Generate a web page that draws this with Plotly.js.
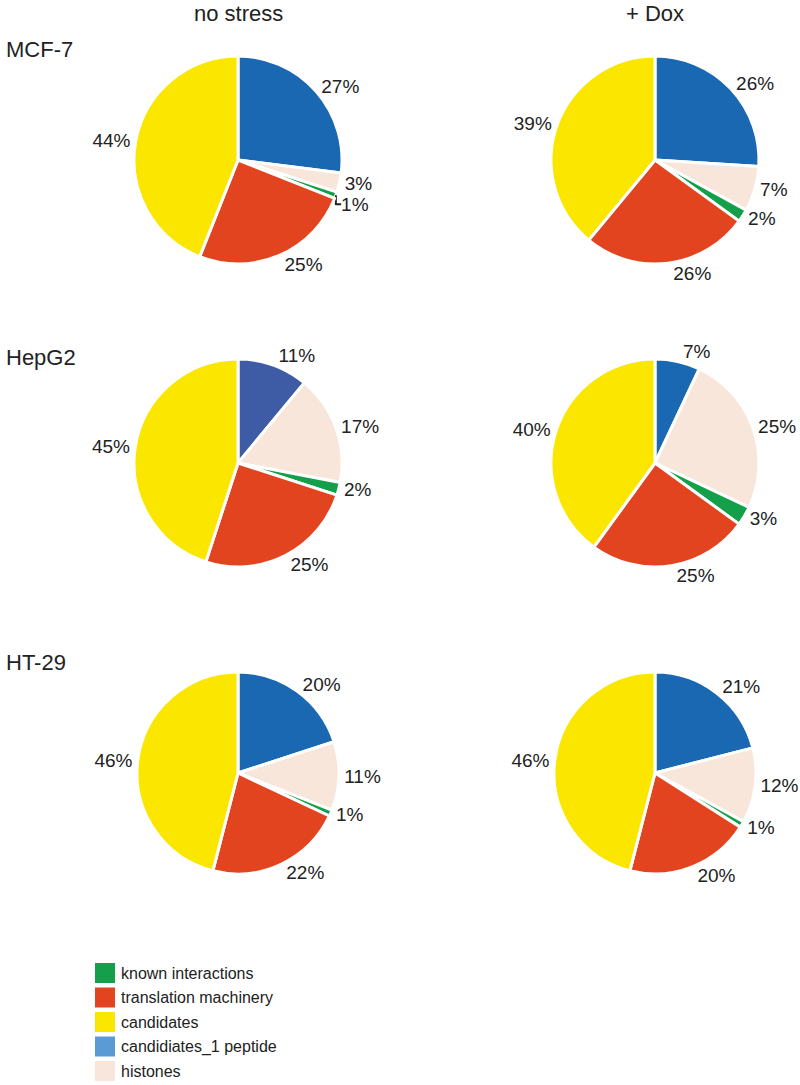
<!DOCTYPE html>
<html>
<head>
<meta charset="utf-8">
<script src="https://cdn.plot.ly/plotly-3.0.1.min.js"></script>
<style>
  body { margin: 0; background: #fff; }
  #chart { width: 800px; height: 1085px; }
</style>
</head>
<body>
<div id="chart"></div>
<script>
// slice order, clockwise from 12 o'clock
var sliceLabels = ['candidiates_1 peptide', 'histones', 'known interactions', 'translation machinery', 'candidates'];

var cellLines = ['MCF-7', 'HepG2', 'HT-29'];
var conditions = ['no stress', '+ Dox'];

// percentages per pie, same order as sliceLabels
var mcf7NoStress = [27, 3, 1, 25, 44];
var mcf7Dox      = [26, 7, 2, 26, 39];
var hepg2NoStress = [11, 17, 2, 25, 45];
var hepg2Dox      = [7, 25, 3, 25, 40];
var ht29NoStress = [20, 11, 1, 22, 46];
var ht29Dox      = [21, 12, 1, 20, 46];

var legendLabels = ['known interactions', 'translation machinery', 'candidates', 'candidiates_1 peptide', 'histones'];
var legendColors = ['#14a04a', '#e2441f', '#fbe600', '#5b9bd5', '#f7e6d9'];

var sliceColors = ['#1a68b2', '#f7e6d9', '#14a04a', '#e2441f', '#fbe600'];
var sliceColorsHep = ['#3e5ba6', '#f7e6d9', '#14a04a', '#e2441f', '#fbe600'];

var W = 800, H = 1085;
var colX = [238, 655];
var rowY = [160, 463, 773];
var radius = [104, 104, 101];

var pieValues = [
  [mcf7NoStress, mcf7Dox],
  [hepg2NoStress, hepg2Dox],
  [ht29NoStress, ht29Dox]
];

var data = [];
for (var r = 0; r < 3; r++) {
  for (var c = 0; c < 2; c++) {
    var cx = colX[c], cy = rowY[r], rad = radius[r];
    data.push({
      type: 'pie',
      values: pieValues[r][c],
      labels: sliceLabels,
      sort: false,
      direction: 'clockwise',
      rotation: 0,
      textinfo: 'percent',
      texttemplate: '%{value}%',
      textposition: 'outside',
      outsidetextfont: { size: 19, color: '#222' },
      marker: {
        colors: (r === 1 && c === 0) ? sliceColorsHep : sliceColors,
        line: { color: '#fff', width: 3 }
      },
      showlegend: false,
      hoverinfo: 'label+percent',
      domain: {
        x: [(cx - rad) / W, (cx + rad) / W],
        y: [1 - (cy + rad) / H, 1 - (cy - rad) / H]
      }
    });
  }
}

var annotations = [];
var shapes = [];

conditions.forEach(function (t, i) {
  annotations.push({
    text: t, xref: 'paper', yref: 'paper', x: colX[i] / W, y: 1 - 13 / H,
    xanchor: 'center', yanchor: 'middle', showarrow: false,
    font: { size: 22, color: '#222' }
  });
});

var rowLabelY = [49, 357, 662];
cellLines.forEach(function (t, i) {
  annotations.push({
    text: t, xref: 'paper', yref: 'paper', x: 4 / W, y: 1 - rowLabelY[i] / H,
    xanchor: 'left', yanchor: 'middle', showarrow: false,
    font: { size: 22, color: '#222' }
  });
});

// legend drawn by hand, swatch colours differ from slices
legendLabels.forEach(function (t, i) {
  var yc = 973 + i * 24.5;
  shapes.push({
    type: 'rect', xref: 'paper', yref: 'paper',
    x0: 95 / W, x1: 115 / W, y0: 1 - (yc + 10) / H, y1: 1 - (yc - 10) / H,
    fillcolor: legendColors[i], line: { width: 0 }
  });
  annotations.push({
    text: t, xref: 'paper', yref: 'paper', x: 119 / W, y: 1 - yc / H,
    xanchor: 'left', yanchor: 'middle', showarrow: false,
    font: { size: 16, color: '#222' }
  });
});

var layout = {
  width: W,
  height: H,
  margin: { l: 0, r: 0, t: 0, b: 0 },
  paper_bgcolor: '#fff',
  font: { family: 'Liberation Sans, Arial, sans-serif' },
  annotations: annotations,
  shapes: shapes,
  showlegend: false
};

Plotly.newPlot('chart', data, layout, { displayModeBar: false });
</script>
</body>
</html>
